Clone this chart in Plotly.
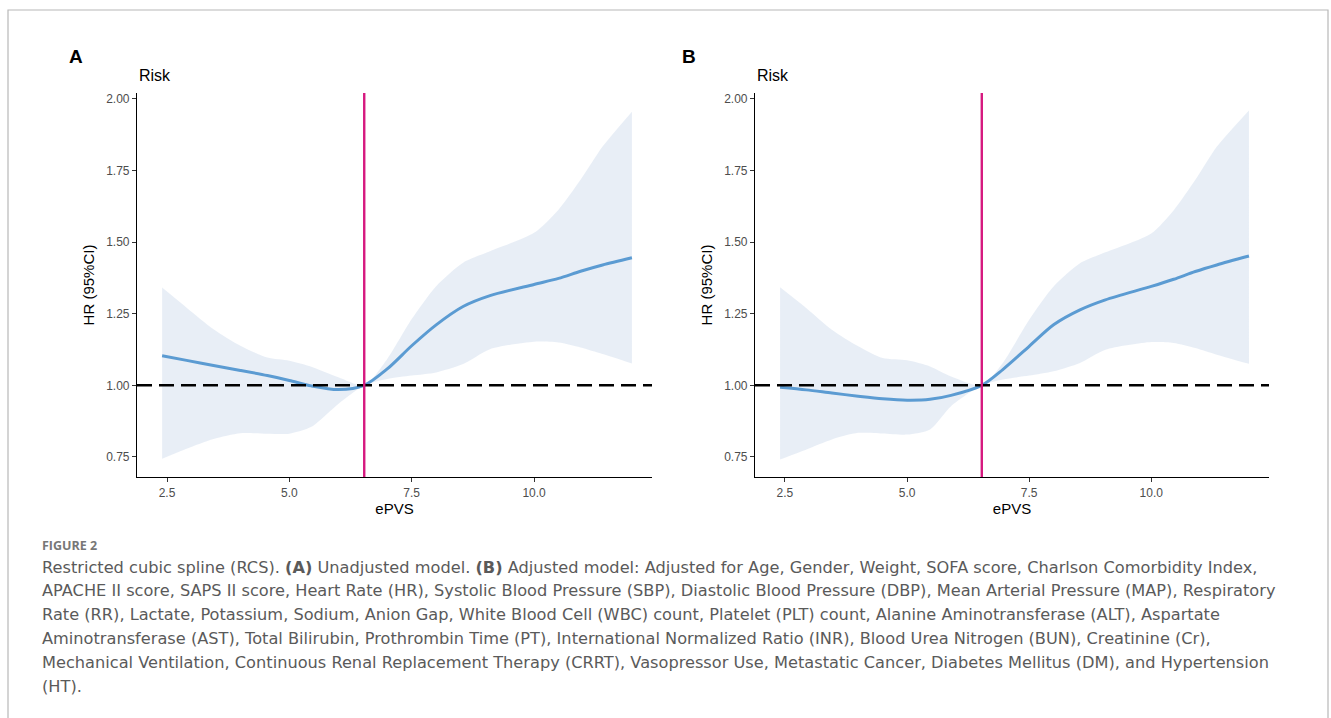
import plotly.graph_objects as go

# ---------------- data ----------------
xa = [2.4, 2.9, 3.45, 4.0, 4.55, 5.0, 5.45, 6.0, 6.53, 7.0, 7.5, 8.0, 8.55, 9.1, 10.0, 10.5, 10.95, 11.4, 12.0]
hr_a = [1.103, 1.087, 1.069, 1.052, 1.034, 1.017, 0.998, 0.985, 1.0, 1.057, 1.138, 1.211, 1.275, 1.313, 1.352, 1.373, 1.398, 1.42, 1.445]
up_a = [1.341, 1.271, 1.196, 1.138, 1.097, 1.086, 1.065, 1.028, 1.0, 1.092, 1.231, 1.346, 1.428, 1.468, 1.532, 1.613, 1.717, 1.833, 1.955]
lo_a = [0.744, 0.779, 0.813, 0.833, 0.831, 0.831, 0.855, 0.935, 1.0, 1.022, 1.034, 1.045, 1.074, 1.126, 1.152, 1.149, 1.132, 1.109, 1.076]

xb = [2.4, 2.94, 3.46, 4.0, 4.5, 5.0, 5.47, 5.9, 6.53, 6.96, 7.5, 8.0, 8.54, 9.06, 10.0, 10.46, 10.9, 11.34, 12.0]
hr_b = [0.993, 0.984, 0.973, 0.962, 0.953, 0.948, 0.951, 0.965, 1.0, 1.055, 1.136, 1.211, 1.263, 1.298, 1.345, 1.37, 1.397, 1.42, 1.451]
up_b = [1.342, 1.269, 1.194, 1.136, 1.095, 1.087, 1.066, 1.031, 1.0, 1.078, 1.229, 1.345, 1.426, 1.464, 1.530, 1.611, 1.716, 1.832, 1.959]
lo_b = [0.741, 0.776, 0.811, 0.834, 0.832, 0.828, 0.846, 0.927, 1.0, 1.020, 1.034, 1.049, 1.078, 1.124, 1.151, 1.148, 1.130, 1.107, 1.075]

ref_x = 6.53      # reference (cut-off) ePVS value
ref_hr = 1.0      # null HR

x_ticks = [2.5, 5.0, 7.5, 10.0]
x_ticklabels = ["2.5", "5.0", "7.5", "10.0"]
y_ticks = [0.75, 1.00, 1.25, 1.50, 1.75, 2.00]
y_ticklabels = ["0.75", "1.00", "1.25", "1.50", "1.75", "2.00"]

caption_head = "FIGURE 2"
caption_lines = [
    "Restricted cubic spline (RCS). <b>(A)</b> Unadjusted model. <b>(B)</b> Adjusted model: Adjusted for Age, Gender, Weight, SOFA score, Charlson Comorbidity Index,",
    "APACHE II score, SAPS II score, Heart Rate (HR), Systolic Blood Pressure (SBP), Diastolic Blood Pressure (DBP), Mean Arterial Pressure (MAP), Respiratory",
    "Rate (RR), Lactate, Potassium, Sodium, Anion Gap, White Blood Cell (WBC) count, Platelet (PLT) count, Alanine Aminotransferase (ALT), Aspartate",
    "Aminotransferase (AST), Total Bilirubin, Prothrombin Time (PT), International Normalized Ratio (INR), Blood Urea Nitrogen (BUN), Creatinine (Cr),",
    "Mechanical Ventilation, Continuous Renal Replacement Therapy (CRRT), Vasopressor Use, Metastatic Cancer, Diabetes Mellitus (DM), and Hypertension",
    "(HT).",
]

# ---------------- style ----------------
W, H = 1331, 718
LINE_BLUE = "#5b9bd2"
RIBBON = "rgba(223,232,243,0.72)"
MAGENTA = "#d6197f"
FONT = "Liberation Sans, Arial, sans-serif"
CAP_FONT = "DejaVu Sans, sans-serif"

def px_x(p):
    return p / W

def px_y(p):
    return 1 - p / H

fig = go.Figure()

panels = [
    ("x", "y", xa, hr_a, up_a, lo_a),
    ("x2", "y2", xb, hr_b, up_b, lo_b),
]
for xr, yr, xs, hr, up, lo in panels:
    fig.add_trace(go.Scatter(
        x=xs, y=lo, mode="lines", line=dict(width=0, shape="spline", smoothing=0.7),
        hoverinfo="skip", showlegend=False, xaxis=xr, yaxis=yr))
    fig.add_trace(go.Scatter(
        x=xs, y=up, mode="lines", fill="tonexty", fillcolor=RIBBON,
        line=dict(width=0, shape="spline", smoothing=0.7),
        hoverinfo="skip", showlegend=False, xaxis=xr, yaxis=yr))
    fig.add_trace(go.Scatter(
        x=xs, y=hr, mode="lines", line=dict(color=LINE_BLUE, width=3, shape="spline", smoothing=0.8),
        showlegend=False, xaxis=xr, yaxis=yr))

dom_a = [px_x(137), px_x(652)]
dom_b = [px_x(755), px_x(1269)]
dom_y = [px_y(477), px_y(93)]
xrange_ = [1.887, 12.41]
yrange_ = [0.68, 2.02]

axis_common = dict(showline=True, linecolor="black", linewidth=1.2, ticks="outside",
                   ticklen=4, tickcolor="#333", tickwidth=1, showgrid=False, zeroline=False,
                   tickfont=dict(family=FONT, size=12, color="#4d4d4d"))
title_font = dict(family=FONT, size=15, color="black")

fig.update_layout(
    width=W, height=H, margin=dict(l=0, r=0, t=0, b=0),
    paper_bgcolor="white", plot_bgcolor="white",
    xaxis=dict(domain=dom_a, range=xrange_, tickvals=x_ticks, ticktext=x_ticklabels, anchor="y",
               title=dict(text="ePVS", font=title_font, standoff=2), **axis_common),
    yaxis=dict(domain=dom_y, range=yrange_, tickvals=y_ticks, ticktext=y_ticklabels, anchor="x",
               title=dict(text="HR (95%CI)", font=title_font, standoff=7), **axis_common),
    xaxis2=dict(domain=dom_b, range=xrange_, tickvals=x_ticks, ticktext=x_ticklabels, anchor="y2",
                title=dict(text="ePVS", font=title_font, standoff=2), **axis_common),
    yaxis2=dict(domain=dom_y, range=yrange_, tickvals=y_ticks, ticktext=y_ticklabels, anchor="x2",
                title=dict(text="HR (95%CI)", font=title_font, standoff=7), **axis_common),
)

shapes = []
for xr, yr in [("x", "y"), ("x2", "y2")]:
    shapes.append(dict(type="line", xref=xr + " domain", yref=yr, x0=0, x1=1, y0=ref_hr, y1=ref_hr,
                       line=dict(color="black", width=2.6, dash="15px,7px")))
    shapes.append(dict(type="line", xref=xr, yref=yr + " domain", x0=ref_x, x1=ref_x, y0=0, y1=1,
                       line=dict(color=MAGENTA, width=2.4)))
# outer frame
shapes.append(dict(type="path", xref="paper", yref="paper",
                   path=f"M {px_x(8)},{0} L {px_x(8)},{px_y(10)} L {px_x(1328)},{px_y(10)} L {px_x(1328)},{0}",
                   line=dict(color="#b8b8b8", width=1.2)))
fig.update_layout(shapes=shapes)

ann = []
for lab, xp in [("A", 67), ("B", 680)]:
    ann.append(dict(text=f"<b>{lab}</b>", x=px_x(xp), y=px_y(56), xref="paper", yref="paper",
                    xanchor="left", yanchor="middle", showarrow=False,
                    font=dict(family=FONT, size=19, color="black")))
for xp in [137, 755]:
    ann.append(dict(text="Risk", x=px_x(xp), y=px_y(76), xref="paper", yref="paper",
                    xanchor="left", yanchor="middle", showarrow=False,
                    font=dict(family=FONT, size=16, color="black")))
ann.append(dict(text=f"<b>{caption_head}</b>", x=px_x(40), y=px_y(545), xref="paper", yref="paper",
                xanchor="left", yanchor="middle", showarrow=False,
                font=dict(family="Open Sans, sans-serif", size=12.5, color="#777777")))
for i, line in enumerate(caption_lines):
    ann.append(dict(text=line, x=px_x(40), y=px_y(567 + i * 23.8), xref="paper", yref="paper",
                    xanchor="left", yanchor="middle", showarrow=False,
                    font=dict(family=CAP_FONT, size=16.2, color="#5a5a5a")))
fig.update_layout(annotations=ann)

fig.write_html("out.html")
